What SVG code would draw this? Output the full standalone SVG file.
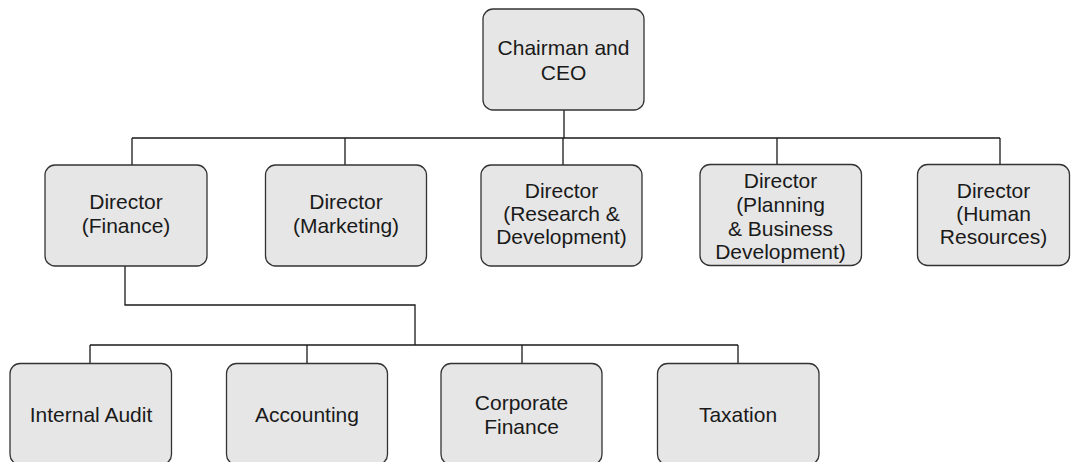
<svg xmlns="http://www.w3.org/2000/svg" width="1071" height="462" viewBox="0 0 1071 462">
  <style>
    .box { fill: #e6e6e6; stroke: #333333; stroke-width: 1.3; }
    .lbl { font-family: "Liberation Sans", Arial, sans-serif; font-size: 21px; fill: #1a1a1a; text-anchor: middle; }
    .wire { fill: none; stroke: #1a1a1a; stroke-width: 1.3; }
  </style>
  <rect width="1071" height="462" fill="#ffffff"/>

  <!-- connectors -->
  <g id="connectors" class="wire">
    <path d="M564 110 V138 M132 138 H1000 M132 138 V165 M345 138 V165 M563 138 V165 M777 138 V165 M1000 138 V165"/>
    <path d="M125 266 V305 H415 V345 M90 345 H738 M90 345 V363 M307 345 V363 M522 345 V363 M738 345 V363"/>
  </g>

  <!-- top level -->
  <g id="ceo">
    <rect class="box" x="483" y="9" width="161" height="101" rx="10"/>
    <text class="lbl" x="563.5" y="55">Chairman and</text>
    <text class="lbl" x="563.5" y="80">CEO</text>
  </g>

  <!-- directors -->
  <g id="dir-finance">
    <rect class="box" x="45" y="165" width="162" height="101" rx="10"/>
    <text class="lbl" x="126" y="209">Director</text>
    <text class="lbl" x="126" y="233">(Finance)</text>
  </g>
  <g id="dir-marketing">
    <rect class="box" x="265.5" y="165" width="161" height="101" rx="10"/>
    <text class="lbl" x="346" y="209">Director</text>
    <text class="lbl" x="346" y="233">(Marketing)</text>
  </g>
  <g id="dir-rnd">
    <rect class="box" x="481" y="165" width="161" height="101" rx="10"/>
    <text class="lbl" x="561.5" y="198">Director</text>
    <text class="lbl" x="561.5" y="221">(Research &amp;</text>
    <text class="lbl" x="561.5" y="244">Development)</text>
  </g>
  <g id="dir-planning">
    <rect class="box" x="700" y="164.5" width="161.5" height="101" rx="10"/>
    <text class="lbl" x="780.5" y="187.5">Director</text>
    <text class="lbl" x="780.5" y="211.5">(Planning</text>
    <text class="lbl" x="780.5" y="235.5">&amp; Business</text>
    <text class="lbl" x="780.5" y="259">Development)</text>
  </g>
  <g id="dir-hr">
    <rect class="box" x="917.5" y="164.5" width="152" height="101" rx="10"/>
    <text class="lbl" x="993.5" y="198">Director</text>
    <text class="lbl" x="993.5" y="221">(Human</text>
    <text class="lbl" x="993.5" y="244">Resources)</text>
  </g>

  <!-- finance departments -->
  <g id="internal-audit">
    <rect class="box" x="10" y="363.5" width="161.5" height="101" rx="10"/>
    <text class="lbl" x="91" y="421.5">Internal Audit</text>
  </g>
  <g id="accounting">
    <rect class="box" x="226.5" y="363.5" width="161" height="101" rx="10"/>
    <text class="lbl" x="307" y="421.5">Accounting</text>
  </g>
  <g id="corporate-finance">
    <rect class="box" x="441" y="363.5" width="161" height="101" rx="10"/>
    <text class="lbl" x="521.5" y="410">Corporate</text>
    <text class="lbl" x="521.5" y="433.5">Finance</text>
  </g>
  <g id="taxation">
    <rect class="box" x="657.5" y="363.5" width="161.5" height="101" rx="10"/>
    <text class="lbl" x="738" y="421.5">Taxation</text>
  </g>
</svg>
